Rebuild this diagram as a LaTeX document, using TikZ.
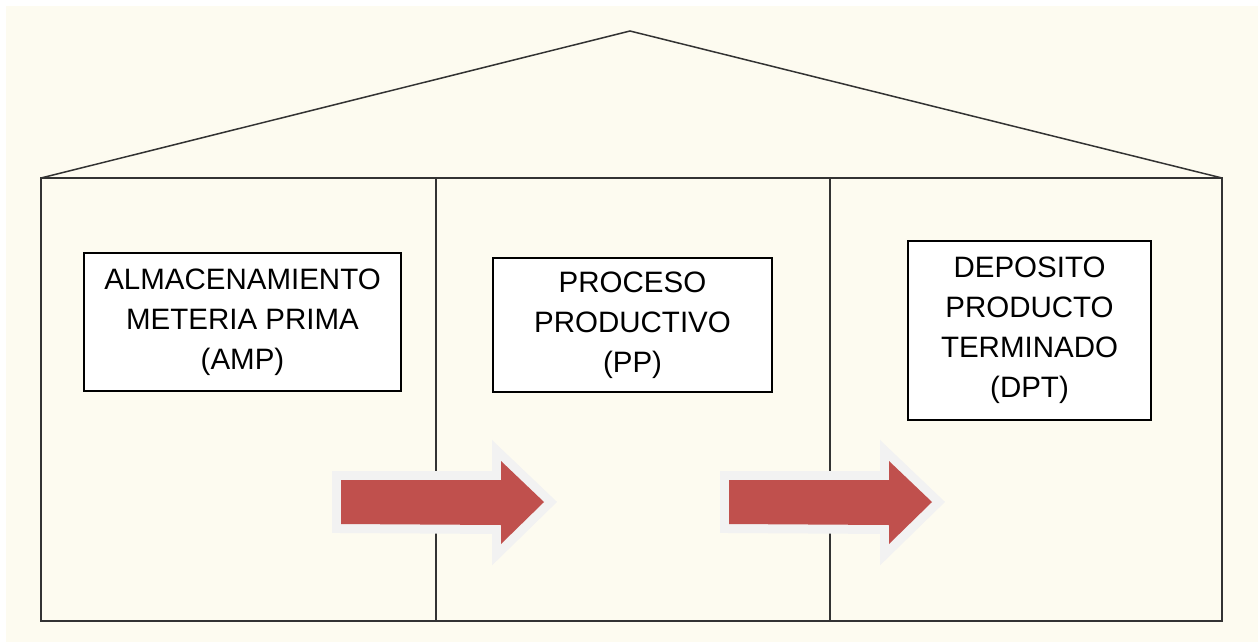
\documentclass[tikz,border=0pt]{standalone}
\usepackage{fontspec}
\setmainfont{Liberation Sans}
\definecolor{cream}{HTML}{FDFBF0}
\definecolor{arrowred}{HTML}{C0504D}
\definecolor{arrowrim}{HTML}{F2F2F2}
\definecolor{wallline}{HTML}{333333}
\tikzset{
  wall/.style={draw=wallline, line width=1.8pt},
  roofline/.style={draw=wallline, line width=1.5pt, line join=miter},
  labelbox/.style={draw=black, fill=white, line width=1.8pt, align=center, inner sep=0pt,
    font=\fontsize{29.5}{40}\selectfont},
  arrowrimstyle/.style={draw=arrowrim, fill=arrowrim, line width=18pt, line join=miter, miter limit=3},
  arrowbody/.style={fill=arrowred, draw=none}
}
\begin{document}
\begin{tikzpicture}[x=1pt,y=-1pt]
\useasboundingbox (0,0) rectangle (1258,642);
\fill[white] (0,0) rectangle (1258,642);
\fill[cream] (6,6) rectangle (1258,642);
% house
\coordinate (bl) at (41,621);
\coordinate (tl) at (41,178);
\coordinate (tr) at (1222,178);
\coordinate (br) at (1222,621);
\coordinate (apex) at (630,31);
\draw[roofline] (tl) -- (apex) -- (tr);
\draw[wall] (tl) rectangle (br);
\coordinate (d1t) at (436,178);
\coordinate (d1b) at (436,621);
\coordinate (d2t) at (830,178);
\coordinate (d2b) at (830,621);
\draw[wall] (d1t) -- (d1b);
\draw[wall] (d2t) -- (d2b);
% boxes
\node[labelbox, minimum width=317pt, minimum height=138pt] (amp) at (242.5,322)
  {ALMACENAMIENTO\\METERIA PRIMA\\(AMP)};
\node[labelbox, minimum width=279pt, minimum height=134pt] (pp) at (632.5,325)
  {PROCESO\\PRODUCTIVO\\(PP)};
\node[labelbox, minimum width=243pt, minimum height=179pt] (dpt) at (1029.5,330.5)
  {DEPOSITO\\PRODUCTO\\TERMINADO\\(DPT)};
% arrows
\foreach \x/\n in {341/a, 729/b}{
  \draw[arrowrimstyle] (\x,480) -- ++(160,0) -- ++(0,-19) -- ++(43,41) -- ++(-43,42) -- ++(0,-19) -- (\x,524) -- cycle;
  \fill[arrowbody] (\x,480) -- ++(160,0) -- ++(0,-19) -- ++(43,41) -- ++(-43,42) -- ++(0,-19) -- (\x,524) -- cycle;
}
\end{tikzpicture}
\end{document}
